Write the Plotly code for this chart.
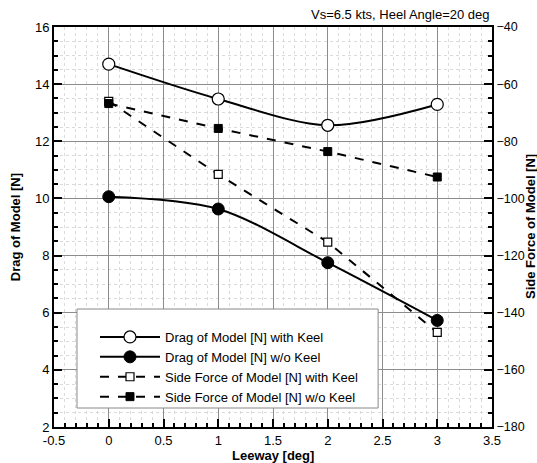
import plotly.graph_objects as go

leeway = [0, 1, 2, 3]
drag_with_keel = [14.70, 13.48, 12.56, 13.29]
drag_wo_keel = [10.06, 9.63, 7.75, 5.73]
side_with_keel = [-66.0, -91.6, -115.3, -146.9]
side_wo_keel = [-66.8, -75.5, -83.6, -92.5]

x_ticks = [-0.5, 0, 0.5, 1, 1.5, 2, 2.5, 3, 3.5]
x_tick_labels = ["-0.5", "0", "0.5", "1", "1.5", "2", "2.5", "3", "3.5"]

FONT = "Liberation Sans, Arial, sans-serif"
MAJOR_GRID = "#8c8c8c"
MINOR_GRID = "#dadada"

fig = go.Figure()
fig.add_trace(go.Scatter(
    x=leeway, y=drag_with_keel, name="Drag of Model [N] with Keel",
    mode="lines+markers", line=dict(color="black", width=2, shape="spline", smoothing=0.9),
    marker=dict(symbol="circle", size=12, color="white", line=dict(color="black", width=1.2)),
))
fig.add_trace(go.Scatter(
    x=leeway, y=drag_wo_keel, name="Drag of Model [N] w/o Keel",
    mode="lines+markers", line=dict(color="black", width=2, shape="spline", smoothing=0.9),
    marker=dict(symbol="circle", size=12, color="black", line=dict(color="black", width=1)),
))
fig.add_trace(go.Scatter(
    x=leeway, y=side_with_keel, name="Side Force of Model [N] with Keel", yaxis="y2",
    mode="lines+markers", line=dict(color="black", width=2, dash="dash"),
    marker=dict(symbol="square", size=8, color="white", line=dict(color="black", width=1.2)),
))
fig.add_trace(go.Scatter(
    x=leeway, y=side_wo_keel, name="Side Force of Model [N] w/o Keel", yaxis="y2",
    mode="lines+markers", line=dict(color="black", width=2, dash="dash"),
    marker=dict(symbol="square", size=8, color="black", line=dict(color="black", width=1)),
))

fig.update_layout(
    width=537, height=463,
    margin=dict(l=54, r=45, t=27, b=36, autoexpand=False),
    paper_bgcolor="white", plot_bgcolor="white",
    font=dict(family=FONT, size=13, color="black"),
    showlegend=True,
    legend=dict(
        x=0.0936, y=0.2625, xanchor="left", yanchor="top",
        bgcolor="rgba(0,0,0,0)", borderwidth=0,
        font=dict(size=13), tracegroupgap=0, itemwidth=60,
    ),
    xaxis=dict(
        range=[-0.5, 3.5], tickvals=x_ticks, ticktext=x_tick_labels, automargin=False,
        showline=True, linecolor="black", linewidth=2, mirror=True,
        ticks="inside", ticklen=8, tickwidth=2, tickcolor="black",
        showgrid=True, gridcolor=MAJOR_GRID, gridwidth=1, zeroline=False,
        minor=dict(dtick=0.1, ticks="inside", ticklen=4, tickcolor="black",
                   showgrid=True, gridcolor=MINOR_GRID, griddash="dot", gridwidth=1),
    ),
    yaxis=dict(
        range=[2, 16], dtick=2, automargin=False,
        showline=True, linecolor="black", linewidth=2, mirror=True,
        ticks="inside", ticklen=8, tickwidth=2, tickcolor="black",
        showgrid=True, gridcolor=MAJOR_GRID, gridwidth=1, zeroline=False,
        minor=dict(dtick=0.5, ticks="inside", ticklen=4, tickcolor="black",
                   showgrid=True, gridcolor=MINOR_GRID, griddash="dot", gridwidth=1),
    ),
    yaxis2=dict(
        range=[-180, -40], dtick=20, overlaying="y", side="right", automargin=False,
        showline=True, linecolor="black", linewidth=2,
        ticks="inside", ticklen=8, tickwidth=2, tickcolor="black",
        showgrid=False, zeroline=False, tickfont=dict(size=12.5),
        minor=dict(dtick=5, ticks="inside", ticklen=4, tickcolor="black", showgrid=False),
    ),
    shapes=[dict(
        type="rect", xref="paper", yref="paper",
        x0=0.0525, x1=0.74, y0=0.0475, y1=0.295,
        fillcolor="white", line=dict(color="#888888", width=1), layer="above",
    )],
    annotations=[
        dict(text="Vs=6.5 kts, Heel Angle=20 deg", xref="paper", yref="paper",
             x=1.0, y=1.0325, xanchor="right", yanchor="middle", showarrow=False,
             font=dict(size=13)),
        dict(text="<b>Leeway [deg]</b>", xref="paper", yref="paper",
             x=0.5, y=-0.07, xanchor="center", yanchor="middle", showarrow=False,
             font=dict(size=13)),
        dict(text="<b>Drag of Model [N]</b>", xref="paper", yref="paper",
             x=-0.0885, y=0.5, xanchor="center", yanchor="middle", showarrow=False,
             textangle=-90, font=dict(size=13)),
        dict(text="<b>Side Force of Model [N]</b>", xref="paper", yref="paper",
             x=1.0868, y=0.5, xanchor="center", yanchor="middle", showarrow=False,
             textangle=-90, font=dict(size=13)),
    ],
)

fig.write_html(
    "out.html",
    config={"displayModeBar": False},
    post_script="document.body.style.margin='0';document.body.style.overflow='hidden';",
)
